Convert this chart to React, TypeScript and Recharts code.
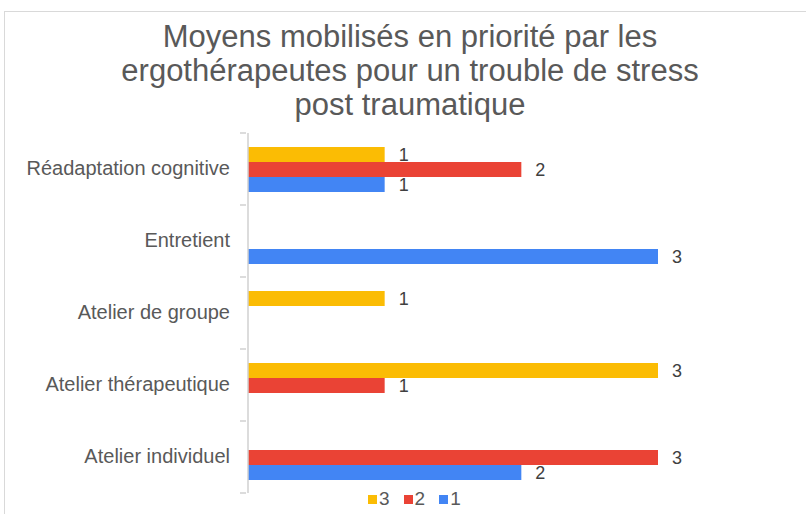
import { BarChart, Bar, XAxis, YAxis, LabelList } from 'recharts'

const categories = [
  'Réadaptation cognitive',
  'Entretient',
  'Atelier de groupe',
  'Atelier thérapeutique',
  'Atelier individuel'
]
const serie3 = [1, 0, 1, 3, 0]
const serie2 = [2, 0, 0, 1, 3]
const serie1 = [1, 3, 0, 0, 2]
const titleLines = [
  'Moyens mobilisés en priorité par les',
  'ergothérapeutes pour un trouble de stress',
  'post traumatique'
]

const series = [
  { key: 's3', name: '3', color: '#FBBC04' },
  { key: 's2', name: '2', color: '#EA4335' },
  { key: 's1', name: '1', color: '#4285F4' }
]

const data = categories.map((name, i) => ({
  name,
  s3: serie3[i],
  s2: serie2[i],
  s1: serie1[i]
}))

const W = 806
const H = 514
const M = { top: 133, right: 148, bottom: 21, left: 8 }
const BAND = (H - M.top - M.bottom) / categories.length

const FONT = '"Liberation Sans", Arial, sans-serif'
const AXIS = '#d0d0d0'

const CategoryTick = ({ x, y, payload, index }: any) => {
  const ax = x + 14
  return (
    <g>
      <line x1={ax - 6} x2={ax} y1={y - BAND / 2} y2={y - BAND / 2} stroke={AXIS} strokeWidth={1.5} />
      {index === categories.length - 1 && (
        <line x1={ax - 6} x2={ax} y1={y + BAND / 2} y2={y + BAND / 2} stroke={AXIS} strokeWidth={1.5} />
      )}
      <text x={x - 2} y={y} dy={6} textAnchor="end" fontSize={20} fill="#595959" fontFamily={FONT}>
        {payload.value}
      </text>
    </g>
  )
}

const hideZero = (v: any) => (v ? v : '')

export default function App() {
  return (
    <div style={{ position: 'absolute', left: 0, top: 0, width: W, height: H, background: '#fff', overflow: 'hidden' }}>
      <div
        style={{
          position: 'absolute',
          left: 4,
          top: 11,
          width: W,
          height: H,
          border: '1.5px solid #d9d9d9'
        }}
      />
      <div
        style={{
          position: 'absolute',
          left: 0,
          top: 20,
          width: 820,
          textAlign: 'center',
          fontFamily: FONT,
          fontSize: 31,
          lineHeight: '34px',
          color: '#595959'
        }}
      >
        {titleLines.map((t) => (
          <div key={t}>{t}</div>
        ))}
      </div>
      <div style={{ position: 'absolute', left: 0, top: 0 }}>
        <BarChart
          width={W}
          height={H}
          data={data}
          layout="vertical"
          margin={M}
          barGap={0}
          barSize={15}
        >
          <XAxis type="number" domain={[0, 3]} hide />
          <YAxis
            type="category"
            dataKey="name"
            width={240}
            axisLine={{ stroke: AXIS, strokeWidth: 1.5 }}
            tickLine={false}
            tick={<CategoryTick />}
            tickMargin={10}
            interval={0}
          />
          {series.map((s) => (
            <Bar key={s.key} dataKey={s.key} name={s.name} fill={s.color} isAnimationActive={false}>
              <LabelList
                dataKey={s.key}
                position="right"
                offset={14}
                fontSize={18}
                fill="#404040"
                fontFamily={FONT}
                formatter={hideZero}
              />
            </Bar>
          ))}
        </BarChart>
      </div>
      <div
        style={{
          position: 'absolute',
          left: 368,
          top: 489,
          display: 'flex',
          alignItems: 'center',
          fontFamily: FONT,
          fontSize: 19,
          color: '#595959',
          lineHeight: '20px'
        }}
      >
        {series.map((s) => (
          <div key={s.key} style={{ display: 'flex', alignItems: 'center', marginRight: 14 }}>
            <span style={{ display: 'inline-block', width: 9, height: 9, background: s.color, marginRight: 2 }} />
            <span>{s.name}</span>
          </div>
        ))}
      </div>
    </div>
  )
}
